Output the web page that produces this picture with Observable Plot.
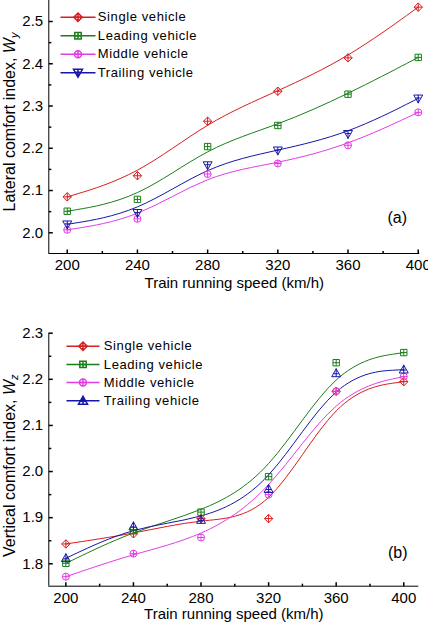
<!DOCTYPE html>
<html><head><meta charset="utf-8">
<script src="https://cdn.jsdelivr.net/npm/d3@7"></script>
<script src="https://cdn.jsdelivr.net/npm/@observablehq/plot@0.6"></script>
<style>
html,body{margin:0;padding:0;background:#fff;}
#chart svg{display:block;background:#fff;}
</style></head><body><div id="chart"></div>
<script>
// ---- data ----
const speeds = [200, 240, 280, 320, 360, 400];
const seriesNames = ["Single vehicle", "Leading vehicle", "Middle vehicle", "Trailing vehicle"];

const lateralSingle   = [2.085, 2.135, 2.264, 2.335, 2.414, 2.534];
const lateralLeading  = [2.051, 2.079, 2.204, 2.254, 2.328, 2.415];
const lateralMiddle   = [2.007, 2.033, 2.139, 2.164, 2.207, 2.285];
const lateralTrailing = [2.020, 2.047, 2.160, 2.195, 2.234, 2.318];

const verticalSingle   = [1.843, 1.865, 1.898, 1.898, 2.174, 2.195];
const verticalLeading  = [1.801, 1.872, 1.912, 1.989, 2.236, 2.258];
const verticalMiddle   = [1.772, 1.822, 1.857, 1.950, 2.174, 2.206];
const verticalTrailing = [1.812, 1.881, 1.895, 1.962, 2.213, 2.221];

const xTicks = [200, 240, 280, 320, 360, 400];
const xMinorTicks = [220, 260, 300, 340, 380];
const lateralTicks = [2.0, 2.1, 2.2, 2.3, 2.4, 2.5];
const lateralMinorTicks = [2.05, 2.15, 2.25, 2.35, 2.45];
const verticalTicks = [1.8, 1.9, 2.0, 2.1, 2.2, 2.3];
const verticalMinorTicks = [1.85, 1.95, 2.05, 2.15, 2.25];

const xTitle = "Train running speed (km/h)";
const lateralTitle = "Lateral comfort index, ";
const verticalTitle = "Vertical comfort index, ";

// ---- styles ----
const FONT = "'Liberation Sans', Arial, sans-serif";
const colors = ["#d81e1e", "#1a7f1a", "#e43ce4", "#1616aa"];

const sym = (fn) => ({draw(ctx, size) { fn(ctx, Math.sqrt(size / Math.PI)); }});
const plus = (c, r) => { c.moveTo(-r, 0); c.lineTo(r, 0); c.moveTo(0, -r); c.lineTo(0, r); };
const diamondPlus = sym((c, r) => { c.moveTo(0, -r); c.lineTo(r, 0); c.lineTo(0, r); c.lineTo(-r, 0); c.closePath(); plus(c, r); });
const squarePlus = sym((c, r) => { c.moveTo(-r, -r); c.lineTo(r, -r); c.lineTo(r, r); c.lineTo(-r, r); c.closePath(); plus(c, r); });
const circlePlus = sym((c, r) => { c.moveTo(r, 0); c.arc(0, 0, r, 0, 2 * Math.PI); plus(c, r); });
const triDownPlus = sym((c, r) => { c.moveTo(-r, -0.75 * r); c.lineTo(r, -0.75 * r); c.lineTo(0, r); c.closePath();
  c.moveTo(-0.55 * r, -0.1 * r); c.lineTo(0.55 * r, -0.1 * r); c.moveTo(0, -0.75 * r); c.lineTo(0, 1.1 * r); });
const triUpPlus = sym((c, r) => { c.moveTo(-r, 0.75 * r); c.lineTo(r, 0.75 * r); c.lineTo(0, -r); c.closePath();
  c.moveTo(-0.55 * r, 0.1 * r); c.lineTo(0.55 * r, 0.1 * r); c.moveTo(0, 0.75 * r); c.lineTo(0, -1.1 * r); });
const tickUp = sym((c, r) => { c.moveTo(0, 0); c.lineTo(0, -r); });
const tickRight = sym((c, r) => { c.moveTo(0, 0); c.lineTo(r, 0); });
const hLine = sym((c, r) => { c.moveTo(-r, 0); c.lineTo(r, 0); });

function panel(o) {
  const marks = [];
  // axes lines
  marks.push(Plot.ruleX([o.xDomain[0]], {stroke: "black", strokeWidth: 1}));
  marks.push(Plot.ruleY([o.yDomain[0]], {stroke: "black", strokeWidth: 1}));
  // inward ticks
  marks.push(Plot.dot(xTicks, {x: d => d, frameAnchor: "bottom", symbol: tickUp, r: 4, stroke: "black", fill: "none"}));
  marks.push(Plot.dot(xMinorTicks, {x: d => d, frameAnchor: "bottom", symbol: tickUp, r: 2.5, stroke: "black", fill: "none"}));
  marks.push(Plot.dot(o.yTicks, {y: d => d, frameAnchor: "left", symbol: tickRight, r: 4, stroke: "black", fill: "none"}));
  marks.push(Plot.dot(o.yMinor, {y: d => d, frameAnchor: "left", symbol: tickRight, r: 2.5, stroke: "black", fill: "none"}));
  // tick labels
  marks.push(Plot.axisX({ticks: xTicks, tickSize: 0, tickPadding: o.xTickPad, fontSize: 15, label: null, tickFormat: d3.format("d")}));
  marks.push(Plot.axisY({ticks: o.yTicks, tickSize: 0, tickPadding: 5.6, fontSize: 15, label: null, tickFormat: d3.format(".1f")}));
  // titles
  marks.push(Plot.text([xTitle], {text: d => d, frameAnchor: "bottom", dy: o.xTitleDy, fontSize: 15, textAnchor: "middle", lineAnchor: "middle"}));
  marks.push(Plot.text([o.yTitle], {text: d => d, frameAnchor: "left", dx: -39.3, dy: o.yTitleDy, rotate: -90, fontSize: 16, textAnchor: "middle", lineAnchor: "middle"}));
  marks.push(Plot.text([o.tag], {text: d => d, frameAnchor: "bottom-right", dx: o.tagDx, dy: o.tagDy, fontSize: 16, textAnchor: "middle", lineAnchor: "middle"}));
  // series
  o.series.forEach((vals, i) => {
    const rows = speeds.map((s, j) => ({speed: s, value: vals[j]}));
    marks.push(Plot.line(rows, {x: "speed", y: "value", curve: "basis", stroke: colors[i], strokeWidth: 1}));
  });
  o.series.forEach((vals, i) => {
    const rows = speeds.map((s, j) => ({speed: s, value: vals[j]}));
    marks.push(Plot.dot(rows, {x: "speed", y: "value", symbol: o.symbols[i], r: o.sizes[i], stroke: colors[i], fill: "none", strokeWidth: 1}));
  });
  // legend
  seriesNames.forEach((name, i) => {
    const dy = o.legendDy0 + i * o.legendStep;
    marks.push(Plot.dot([0], {frameAnchor: "top-left", dx: o.legendDx, dy, symbol: hLine, r: o.legendHalf, stroke: colors[i], fill: "none"}));
    marks.push(Plot.dot([0], {frameAnchor: "top-left", dx: o.legendDx, dy, symbol: o.symbols[i], r: o.sizes[i], stroke: colors[i], fill: "none"}));
    marks.push(Plot.text([name], {text: d => d, frameAnchor: "top-left", dx: o.legendTextDx, dy, textAnchor: "start", lineAnchor: "middle", fontSize: 13}));
  });
  const svg = Plot.plot({
    width: 428, height: o.height,
    marginTop: o.marginTop, marginBottom: o.marginBottom, marginLeft: 48.3, marginRight: o.marginRight,
    x: {domain: o.xDomain},
    y: {domain: o.yDomain},
    style: {fontFamily: FONT, color: "black", background: "white", overflow: "visible"},
    marks
  });
  // legend letter spacing
  d3.select(svg).selectAll("text").filter(function() { return seriesNames.includes(this.textContent); })
    .attr("letter-spacing", "0.6px");
  // y title with italic W and subscript
  d3.select(svg).selectAll("text").filter(function() { return this.textContent === o.yTitle; })
    .each(function() {
      const t = d3.select(this);
      t.text(null);
      t.append("tspan").text(o.yTitle);
      t.append("tspan").attr("font-style", "italic").text("W");
      t.append("tspan").attr("font-style", "italic").attr("font-size", "11px").attr("dy", "3").text(o.ySub);
    });
  return svg;
}

const chart = document.getElementById("chart");
chart.appendChild(panel({
  series: [lateralSingle, lateralLeading, lateralMiddle, lateralTrailing],
  symbols: [diamondPlus, squarePlus, circlePlus, triDownPlus],
  sizes: [4.2, 3.2, 3.5, 4.5],
  xDomain: [189.5, 400.9], yDomain: [1.951, 2.5497],
  yTicks: lateralTicks, yMinor: lateralMinorTicks,
  height: 300, marginTop: 0, marginBottom: 47, marginRight: 8.7,
  xTickPad: 6, xTitleDy: 29.5,
  yTitle: lateralTitle, ySub: "y", yTitleDy: -5,
  tag: "(a)", tagDx: -22.6, tagDy: -35.7,
  legendDx: 29.2, legendDy0: 16.7, legendStep: 18.5, legendHalf: 17.5, legendTextDx: 49
}));
chart.appendChild(panel({
  series: [verticalSingle, verticalLeading, verticalMiddle, verticalTrailing],
  symbols: [diamondPlus, squarePlus, circlePlus, triUpPlus],
  sizes: [4.2, 3.2, 3.5, 4.5],
  xDomain: [189.9, 408.9], yDomain: [1.7514, 2.3],
  yTicks: verticalTicks, yMinor: verticalMinorTicks,
  height: 322, marginTop: 32.7, marginBottom: 36.3, marginRight: 9.7,
  xTickPad: 5.8, xTitleDy: 28.4,
  yTitle: verticalTitle, ySub: "z", yTitleDy: 6,
  tag: "(b)", tagDx: -21, tagDy: -33.4,
  legendDx: 34.2, legendDy0: 13, legendStep: 18.2, legendHalf: 16.5, legendTextDx: 55
}));
</script></body></html>
